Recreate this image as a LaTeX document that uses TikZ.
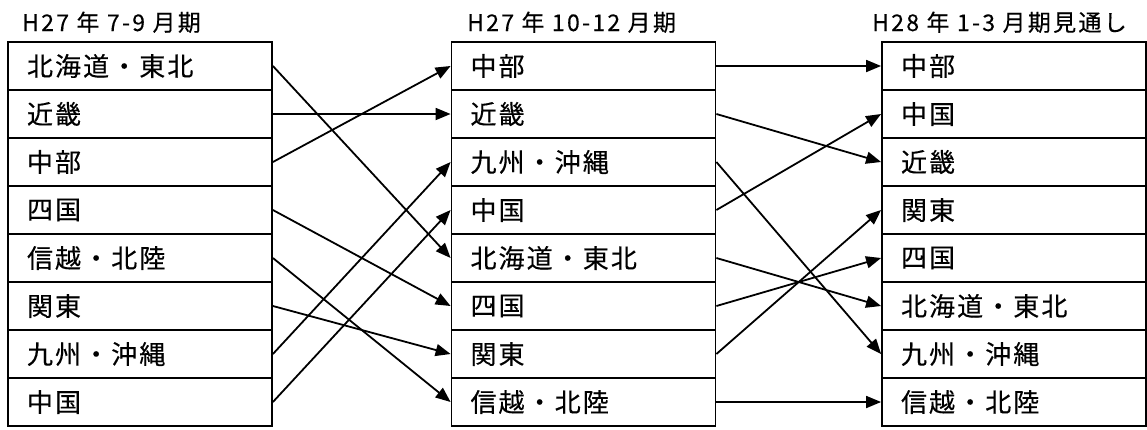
\documentclass[tikz,border=0pt]{standalone}
\usepackage{fontspec}
\setmainfont{Noto Sans CJK JP}[FakeBold=0.3]
\usetikzlibrary{arrows.meta}
\newcommand{\lowr}[1]{\raisebox{-4pt}{#1}}
\begin{document}
\begin{tikzpicture}[x=1pt,y=-1pt,
  cell/.style={draw, line width=1.8pt, minimum width=264pt, minimum height=48pt,
    text width=226pt, inner xsep=19pt, inner ysep=0pt, align=left,
    font=\fontsize{26}{28}\selectfont\addfontfeature{LetterSpace=8}, anchor=center},
  ttl/.style={anchor=base west, font=\fontsize{23}{26}\selectfont\addfontfeature{LetterSpace=10}, inner sep=0pt},
  arr/.style={line width=1.8pt, -{Triangle[length=15pt,width=12pt]}}]
\useasboundingbox (0,0) rectangle (1147,429);
% titles
\node[ttl] (ta) at (22,31) {H27 年 7-9 月期};
\node[ttl] (tb) at (467,31) {H27 年 10-12 月期};
\node[ttl] (tc) at (872,31) {H28 年 1-3 月期見通し};
% column A
\node[cell] (a1) at (140,66)  {\lowr{北海道・東北}};
\node[cell] (a2) at (140,114) {\lowr{近畿}};
\node[cell] (a3) at (140,162) {\lowr{中部}};
\node[cell] (a4) at (140,210) {\lowr{四国}};
\node[cell] (a5) at (140,258) {\lowr{信越・北陸}};
\node[cell] (a6) at (140,306) {\lowr{関東}};
\node[cell] (a7) at (140,354) {\lowr{九州・沖縄}};
\node[cell] (a8) at (140,402) {\lowr{中国}};
% column B
\node[cell] (b1) at (583.5,66)  {\lowr{中部}};
\node[cell] (b2) at (583.5,114) {\lowr{近畿}};
\node[cell] (b3) at (583.5,162) {\lowr{九州・沖縄}};
\node[cell] (b4) at (583.5,210) {\lowr{中国}};
\node[cell] (b5) at (583.5,258) {\lowr{北海道・東北}};
\node[cell] (b6) at (583.5,306) {\lowr{四国}};
\node[cell] (b7) at (583.5,354) {\lowr{関東}};
\node[cell] (b8) at (583.5,402) {\lowr{信越・北陸}};
% column C
\node[cell] (c1) at (1014,66)  {\lowr{中部}};
\node[cell] (c2) at (1014,114) {\lowr{中国}};
\node[cell] (c3) at (1014,162) {\lowr{近畿}};
\node[cell] (c4) at (1014,210) {\lowr{関東}};
\node[cell] (c5) at (1014,258) {\lowr{四国}};
\node[cell] (c6) at (1014,306) {\lowr{北海道・東北}};
\node[cell] (c7) at (1014,354) {\lowr{九州・沖縄}};
\node[cell] (c8) at (1014,402) {\lowr{信越・北陸}};
% arrows A -> B
\draw[arr] (a1.east) -- (b5.west);
\draw[arr] (a2.east) -- (b2.west);
\draw[arr] (a3.east) -- (b1.west);
\draw[arr] (a4.east) -- (b6.west);
\draw[arr] (a5.east) -- (b8.west);
\draw[arr] (a6.east) -- (b7.west);
\draw[arr] (a7.east) -- (b3.west);
\draw[arr] (a8.east) -- (b4.west);
% arrows B -> C
\draw[arr] (b1.east) -- (c1.west);
\draw[arr] (b2.east) -- (c3.west);
\draw[arr] (b3.east) -- (c7.west);
\draw[arr] (b4.east) -- (c2.west);
\draw[arr] (b5.east) -- (c6.west);
\draw[arr] (b6.east) -- (c5.west);
\draw[arr] (b7.east) -- (c4.west);
\draw[arr] (b8.east) -- (c8.west);
\end{tikzpicture}
\end{document}
